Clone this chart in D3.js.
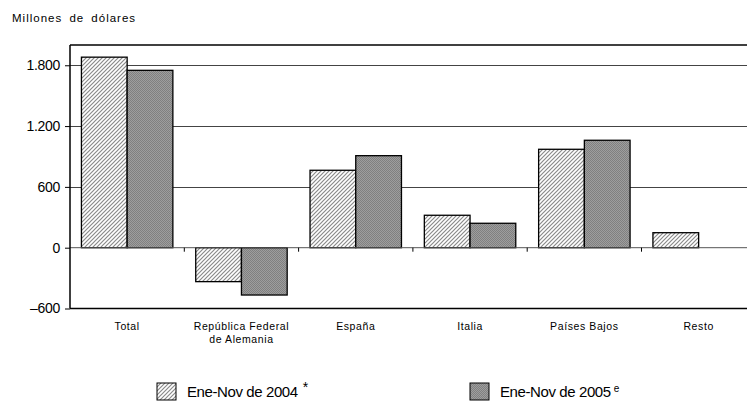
<!DOCTYPE html>
<html><head><meta charset="utf-8">
<script src="https://cdn.jsdelivr.net/npm/d3@7"></script>
<style>body{margin:0;background:#fff;}svg{display:block;font-family:"Liberation Sans",Arial,sans-serif;}</style>
</head><body>
<svg id="c" width="747" height="407"></svg>
<script>
const categories = ["Total", "República Federal\nde Alemania", "España", "Italia", "Países Bajos", "Resto"];
const series2004 = [1880, -335, 764, 320, 971, 148];
const series2005 = [1750, -467, 908, 241, 1060, null];
const yTicks = [-600, 0, 600, 1200, 1800];
const yTickLabels = ["\u2013600", "0", "600", "1.200", "1.800"];
const seriesNames = ["Ene-Nov de 2004", "Ene-Nov de 2005"];
const seriesMarks = ["*", "e"];

const svg = d3.select("#c");
const left = 70, bw = 114.3;
const x = d3.scaleBand().domain(categories).range([left, left + bw * categories.length]).padding(0);
const y = d3.scaleLinear().domain([-600, 2000]).range([308.5, 45]);

const defs = svg.append("defs");
const hp = defs.append("pattern").attr("id", "hatch").attr("patternUnits", "userSpaceOnUse")
  .attr("width", 4).attr("height", 4);
hp.append("rect").attr("width", 4).attr("height", 4).attr("fill", "#fff");
hp.append("path").attr("d", "M-1,1 l2,-2 M0,4 l4,-4 M3,5 l2,-2").attr("stroke", "#8a8a8a").attr("stroke-width", 1.2);
const cp = defs.append("pattern").attr("id", "check").attr("patternUnits", "userSpaceOnUse")
  .attr("width", 2).attr("height", 2);
cp.append("rect").attr("width", 2).attr("height", 2).attr("fill", "#9e9e9e");
cp.append("rect").attr("width", 1).attr("height", 1).attr("fill", "#808080");
cp.append("rect").attr("x", 1).attr("y", 1).attr("width", 1).attr("height", 1).attr("fill", "#808080");

const right = 747;
// gridlines
svg.append("g").selectAll("line").data([600, 1200, 1800]).join("line")
  .attr("x1", left).attr("x2", right).attr("y1", d => Math.round(y(d)) + 0.5).attr("y2", d => Math.round(y(d)) + 0.5)
  .attr("stroke", "#444").attr("stroke-width", 1);
// top & bottom borders
svg.append("line").attr("x1", left).attr("x2", right).attr("y1", y(2000)).attr("y2", y(2000)).attr("stroke", "#000").attr("stroke-width", 1.5);
svg.append("line").attr("x1", left).attr("x2", right).attr("y1", y(-600)).attr("y2", y(-600)).attr("stroke", "#000").attr("stroke-width", 1.5);

// bars
const g = svg.append("g");
const data = [];
categories.forEach((c, i) => {
  data.push({c, s: 0, v: series2004[i]});
  if (series2005[i] !== null) data.push({c, s: 1, v: series2005[i]});
});
g.selectAll("rect").data(data).join("rect")
  .attr("x", d => x(d.c) + x.bandwidth() * (0.1 + 0.4 * d.s))
  .attr("width", x.bandwidth() * 0.4)
  .attr("y", d => y(Math.max(0, d.v)))
  .attr("height", d => Math.abs(y(d.v) - y(0)))
  .attr("fill", d => d.s === 0 ? "url(#hatch)" : "url(#check)")
  .attr("stroke", "#000").attr("stroke-width", 1.3);

// zero line
svg.append("line").attr("x1", left).attr("x2", right).attr("y1", y(0)).attr("y2", y(0)).attr("stroke", "#555").attr("stroke-width", 1);
// category ticks
svg.append("g").selectAll("line").data(categories.slice(1)).join("line")
  .attr("x1", d => x(d)).attr("x2", d => x(d)).attr("y1", y(0)).attr("y2", y(0) + 4)
  .attr("stroke", "#000").attr("stroke-width", 1);

// y axis
const yAxis = d3.axisLeft(y).tickValues(yTicks).tickSize(5).tickFormat((d, i) => yTickLabels[i]);
const ga = svg.append("g").attr("transform", `translate(${left},0)`).call(yAxis);
ga.select(".domain").attr("d", `M0,${y(2000)}V${y(-600)}`).attr("stroke", "#000").attr("stroke-width", 1.5);
ga.selectAll(".tick line").attr("stroke", "#000");
ga.selectAll(".tick text").attr("x", -10).attr("font-size", 14).attr("fill", "#000")
  .attr("font-family", "'Liberation Sans',Arial,sans-serif").attr("letter-spacing", -0.3);

// category labels
const lab = svg.append("g").selectAll("text").data(categories).join("text")
  .attr("x", d => x(d) + x.bandwidth() / 2).attr("y", 330)
  .attr("text-anchor", "middle").attr("font-size", 10.5).attr("letter-spacing", 0.6).attr("fill", "#000");
lab.each(function(d){
  const t = d3.select(this);
  d.split("\n").forEach((ln, i) => t.append("tspan").attr("x", x(d) + x.bandwidth() / 2).attr("dy", i ? 13 : 0).text(ln));
});

// title
svg.append("text").attr("x", 12).attr("y", 21.5).attr("font-size", 11.5).attr("letter-spacing", 1)
  .attr("word-spacing", 3).text("Millones de dólares");

// legend
const legX = [157, 470];
const leg = svg.append("g").selectAll("g").data(seriesNames).join("g")
  .attr("transform", (d, i) => `translate(${legX[i]},383)`);
leg.append("rect").attr("width", 19).attr("height", 17)
  .attr("fill", (d, i) => i === 0 ? "url(#hatch)" : "url(#check)").attr("stroke", "#000").attr("stroke-width", 1);
const lt = leg.append("text").attr("x", 30).attr("y", 14).attr("font-size", 15).attr("letter-spacing", -0.4);
lt.append("tspan").text(d => d);
lt.append("tspan").attr("dx", (d, i) => i === 0 ? 5 : 3).attr("dy", -5).attr("font-size", (d, i) => i === 0 ? 14 : 10)
  .text((d, i) => seriesMarks[i]);
</script>
</body></html>
